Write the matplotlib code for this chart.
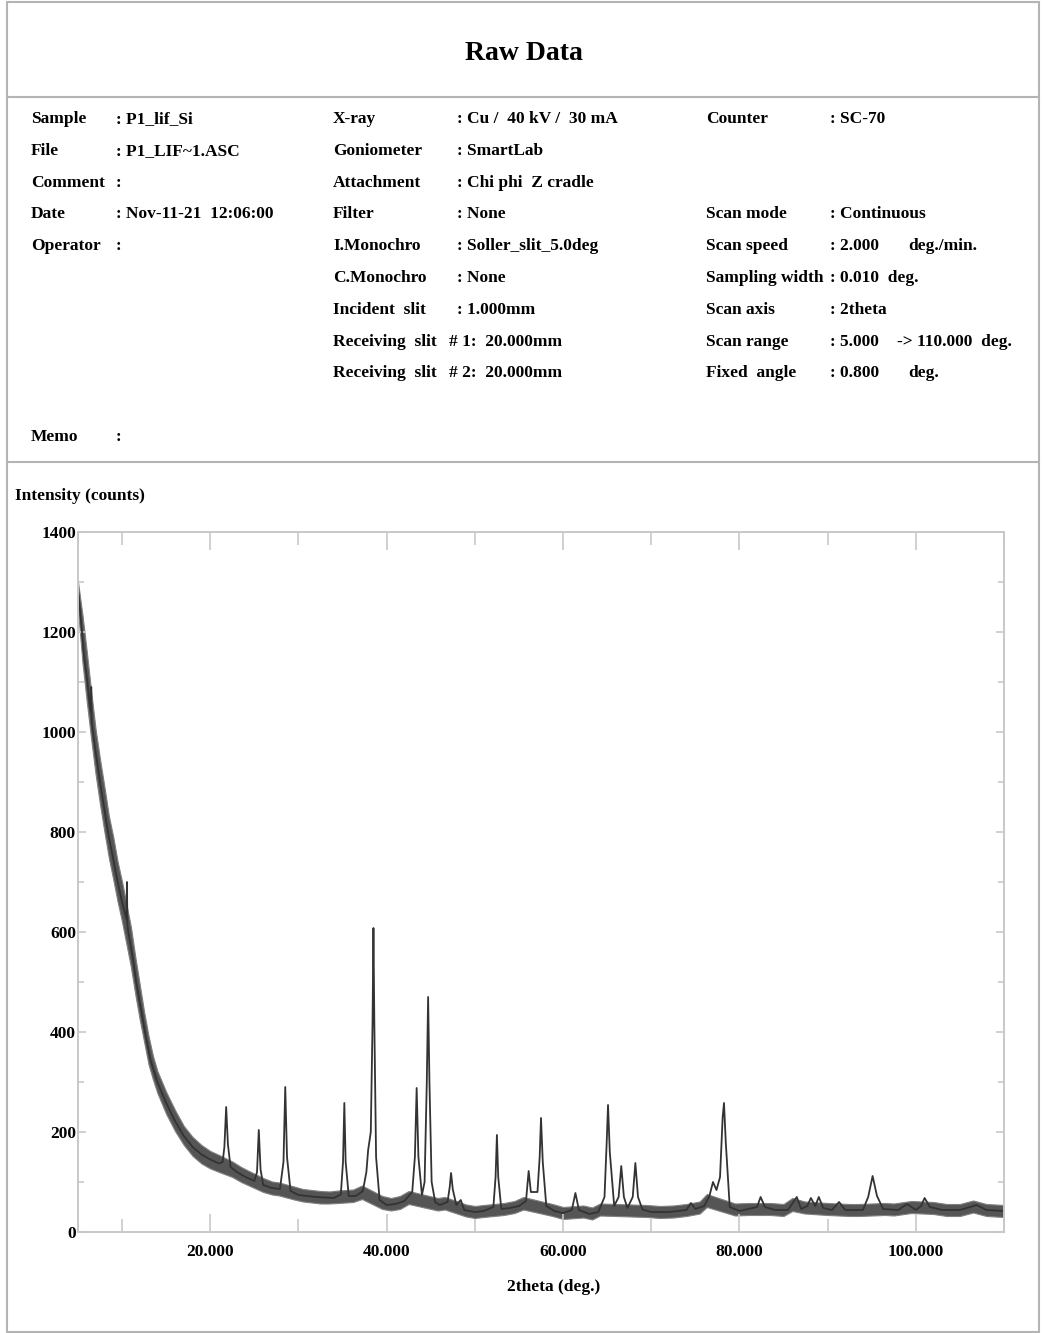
import matplotlib
matplotlib.use("Agg")
import matplotlib.pyplot as plt
from matplotlib.lines import Line2D
from matplotlib.patches import Rectangle
from matplotlib.ticker import MultipleLocator, FormatStrFormatter

# scan: 2theta (deg.) / intensity (counts), traced from the print
two_theta = [5.0, 5.2, 5.45, 5.7, 6.0, 6.3, 6.45, 6.5, 6.55, 6.7, 7.0, 7.5, 8.0, 8.4, 9.0, 9.5,
             10.0, 10.5, 10.55, 10.6, 10.7, 11.2, 11.6, 12.0, 12.6, 13.2, 14.0, 15.0, 16.0, 17.0,
             18.0, 19.0, 20.0, 21.0, 21.4,
             21.6, 21.8, 22.0, 22.3, 23.0, 24.0, 25.0, 25.3, 25.5, 25.7, 26.0, 27.0, 27.9,
             28.3, 28.5, 28.7, 29.1, 30.0, 32.0, 34.0, 34.8, 35.05, 35.2, 35.35, 35.7, 36.5,
             37.3, 37.7, 37.9, 38.2, 38.4, 38.5, 38.6, 38.8, 39.2, 40.0, 41.0, 42.0, 42.9,
             43.2, 43.4, 43.6, 44.0, 44.3, 44.55, 44.7, 44.85, 45.1, 45.5, 46.0, 46.9, 47.15,
             47.3, 47.5, 47.9, 48.4, 48.8, 50.0, 51.0, 52.1, 52.35, 52.5, 52.65, 53.0, 54.0,
             55.0, 55.8, 56.1, 56.35, 57.1, 57.35, 57.5, 57.7, 58.1, 59.0, 60.0, 61.0, 61.4,
             61.8, 63.0, 64.0, 64.7, 64.95, 65.1, 65.3, 65.8, 66.3, 66.6, 66.9, 67.3, 67.9,
             68.2, 68.5, 69.0, 70.0, 72.0, 74.0, 74.5, 75.0, 76.0, 76.6, 77.0, 77.4, 77.8,
             78.1, 78.25, 78.45, 78.9, 80.0, 81.0, 82.0, 82.4, 82.9, 84.0, 85.5, 86.5, 87.0,
             87.7, 88.1, 88.6, 89.0, 89.5, 90.5, 91.3, 92.0, 94.0, 94.6, 95.1, 95.6, 96.3,
             98.0, 99.0, 100.0, 100.6, 101.0, 101.6, 103.0, 105.0, 106.9, 108.0, 110.0]
counts = [1285, 1250, 1200, 1150, 1110, 1060, 1040, 1090, 1020, 1000, 960, 900, 845, 800, 745, 700,
          660, 625, 700, 615, 600, 550, 500, 460, 400, 345, 300, 258, 222, 192,
          170, 155, 145, 137, 140,
          170, 250, 175, 130, 120, 110, 102, 120, 204, 125, 94, 88, 86,
          140, 290, 150, 82, 74, 70, 68, 75, 140, 258, 140, 72, 72,
          82, 120, 164, 200, 420, 608, 420, 150, 64, 54, 56, 62, 80,
          150, 288, 150, 74, 100, 300, 470, 300, 100, 60, 54, 60, 90,
          118, 85, 54, 64, 44, 40, 42, 50, 110, 194, 110, 46, 48,
          52, 62, 122, 80, 80, 150, 228, 140, 52, 42, 38, 44, 78,
          44, 36, 40, 70, 180, 254, 160, 52, 70, 132, 70, 48, 70,
          138, 70, 45, 40, 40, 44, 58, 46, 52, 72, 100, 84, 110,
          230, 258, 180, 50, 42, 46, 50, 70, 50, 44, 44, 70, 46,
          52, 68, 52, 70, 48, 44, 60, 44, 44, 70, 112, 72, 46,
          44, 56, 44, 52, 68, 50, 44, 44, 54, 44, 42]

# counting-noise band of the background (lower / upper edge)
band_tt = [5, 5.5, 6, 6.5, 7, 7.5, 8, 8.5, 9, 9.5, 10, 10.5, 11, 11.5, 12, 12.5, 13, 13.5, 14,
           15, 16, 17, 18, 19, 20, 21, 22.5, 23.5, 24.5, 26, 27, 27.8, 29.5, 30.5, 31.5, 32.5,
           33.5, 34.5, 36.2, 37.2, 39.5, 40.5, 41.5, 42.5, 45.8, 46.6, 49, 50, 51, 53.3, 54.5,
           55.5, 58.8, 60, 62.3, 63.3, 64.2, 69.5, 71, 72.5, 74, 75.5, 76.3, 79.5, 81, 83.5, 85,
           86, 87.4, 90, 92.5, 93.5, 96.5, 97.5, 99.5, 102, 103.5, 105, 106.5, 108, 109, 110]
band_lo = [1245, 1140, 1060, 985, 915, 855, 800, 748, 705, 660, 620, 575, 530, 475, 425, 380,
           335, 305, 278, 236, 202, 174, 152, 137, 127, 120, 110, 100, 92, 80, 75, 73, 65, 61,
           59, 57, 57, 58, 60, 66, 46, 43, 46, 56, 43, 45, 31, 28, 30, 34, 38, 45, 32, 26, 29,
           25, 33, 30, 28, 29, 32, 37, 50, 33, 34, 34, 32, 42, 37, 34, 32, 32, 34, 33, 38, 36,
           32, 32, 39, 32, 31, 30]
band_hi = [1300, 1235, 1160, 1080, 1005, 945, 890, 832, 790, 740, 700, 655, 610, 550, 495, 440,
           392, 352, 322, 280, 244, 212, 190, 174, 162, 154, 141, 130, 121, 108, 101, 99, 91, 86,
           84, 82, 81, 83, 85, 93, 72, 68, 72, 82, 68, 70, 55, 52, 54, 58, 62, 70, 56, 50, 53,
           49, 57, 54, 52, 53, 56, 61, 76, 57, 58, 58, 56, 68, 61, 58, 56, 56, 58, 57, 62, 60,
           56, 56, 63, 56, 55, 54]

left_rows = [("Sample", ": P1_lif_Si"), ("File", ": P1_LIF~1.ASC"), ("Comment", ":"),
             ("Date", ": Nov-11-21  12:06:00"), ("Operator", ":")]
mid_rows = [("X-ray", ": Cu /  40 kV /  30 mA"), ("Goniometer", ": SmartLab"),
            ("Attachment", ": Chi phi  Z cradle"), ("Filter", ": None"),
            ("I.Monochro", ": Soller_slit_5.0deg"), ("C.Monochro", ": None"),
            ("Incident  slit", ": 1.000mm")]
slit_rows = [("Receiving  slit", "# 1:  20.000mm"), ("Receiving  slit", "# 2:  20.000mm")]
right_rows = [(0, "Counter", ": SC-70", ""), (3, "Scan mode", ": Continuous", ""),
              (4, "Scan speed", ": 2.000", "deg./min."), (5, "Sampling width", ": 0.010  deg.", ""),
              (6, "Scan axis", ": 2theta", ""), (7, "Scan range", ": 5.000", "-> 110.000  deg."),
              (8, "Fixed  angle", ": 0.800", "deg.")]

W, H = 1042, 1333
plt.rcParams['font.family'] = ['Liberation Serif', 'DejaVu Serif']
plt.rcParams['font.weight'] = 'bold'
fig = plt.figure(figsize=(W / 100, H / 100), dpi=100)


def fx(x):
    return x / W


def fy(y):
    return 1 - y / H


grey = '#b4b4b4'
fig.add_artist(Rectangle((fx(7), fy(1332)), fx(1039) - fx(7), fy(2) - fy(1332),
                         transform=fig.transFigure, fill=False, ec=grey, lw=1.5))
for yy in (97, 462):
    fig.add_artist(Line2D([fx(7), fx(1039)], [fy(yy), fy(yy)], transform=fig.transFigure,
                          color=grey, lw=1.5))

fig.text(fx(524), fy(54), "Raw Data", ha='center', va='center', fontsize=20)

base, step = 123, 31.8
fs = 12.5
for i, (lab, val) in enumerate(left_rows):
    fig.text(fx(31), fy(base + i * step), lab, fontsize=fs, va='baseline')
    fig.text(fx(116), fy(base + i * step), val, fontsize=fs, va='baseline')
fig.text(fx(31), fy(base + 10 * step), "Memo", fontsize=fs, va='baseline')
fig.text(fx(116), fy(base + 10 * step), ":", fontsize=fs, va='baseline')
for i, (lab, val) in enumerate(mid_rows):
    fig.text(fx(333), fy(base + i * step), lab, fontsize=fs, va='baseline')
    fig.text(fx(457), fy(base + i * step), val, fontsize=fs, va='baseline')
for i, (lab, val) in enumerate(slit_rows):
    fig.text(fx(333), fy(base + (7 + i) * step), lab, fontsize=fs, va='baseline')
    fig.text(fx(449), fy(base + (7 + i) * step), val, fontsize=fs, va='baseline')
for r, lab, val, extra in right_rows:
    fig.text(fx(706), fy(base + r * step), lab, fontsize=fs, va='baseline')
    fig.text(fx(830), fy(base + r * step), val, fontsize=fs, va='baseline')
    if extra:
        xe = 897 if extra.startswith("->") else 908
        fig.text(fx(xe), fy(base + r * step), extra, fontsize=fs, va='baseline')

ax = fig.add_axes([fx(78), fy(1232), fx(1004) - fx(78), fy(532) - fy(1232)])
ax.fill_between(band_tt, band_lo, band_hi, facecolor='#555555', edgecolor='#808080', lw=0.8)
ax.plot(two_theta, counts, color='#333333', lw=1.3)

ax.set_xlim(5, 110)
ax.set_ylim(0, 1400)
ax.xaxis.set_major_locator(MultipleLocator(20))
ax.xaxis.set_minor_locator(MultipleLocator(10))
ax.xaxis.set_major_formatter(FormatStrFormatter('%.3f'))
ax.yaxis.set_major_locator(MultipleLocator(200))
ax.yaxis.set_minor_locator(MultipleLocator(100))
for s in ax.spines.values():
    s.set_color('#c8c8c8')
    s.set_linewidth(1.4)
ax.tick_params(axis='x', which='both', direction='in', top=True, bottom=True,
               color='#c8c8c8', width=1.2, labelsize=12.5, pad=8.5)
ax.tick_params(axis='x', which='major', length=13)
ax.tick_params(axis='x', which='minor', length=9.5)
ax.tick_params(axis='y', which='both', direction='in', left=True, right=True,
               color='#c8c8c8', width=1.2, labelsize=12.5, pad=1.5)
ax.tick_params(axis='y', which='major', length=5.8)
ax.tick_params(axis='y', which='minor', length=4.3)

fig.text(fx(15), fy(496), "Intensity (counts)", fontsize=12.5, va='center', ha='left')
fig.text(fx(554), fy(1287), "2theta (deg.)", fontsize=12.5, va='center', ha='center')

fig.savefig("out.png", dpi=100)
